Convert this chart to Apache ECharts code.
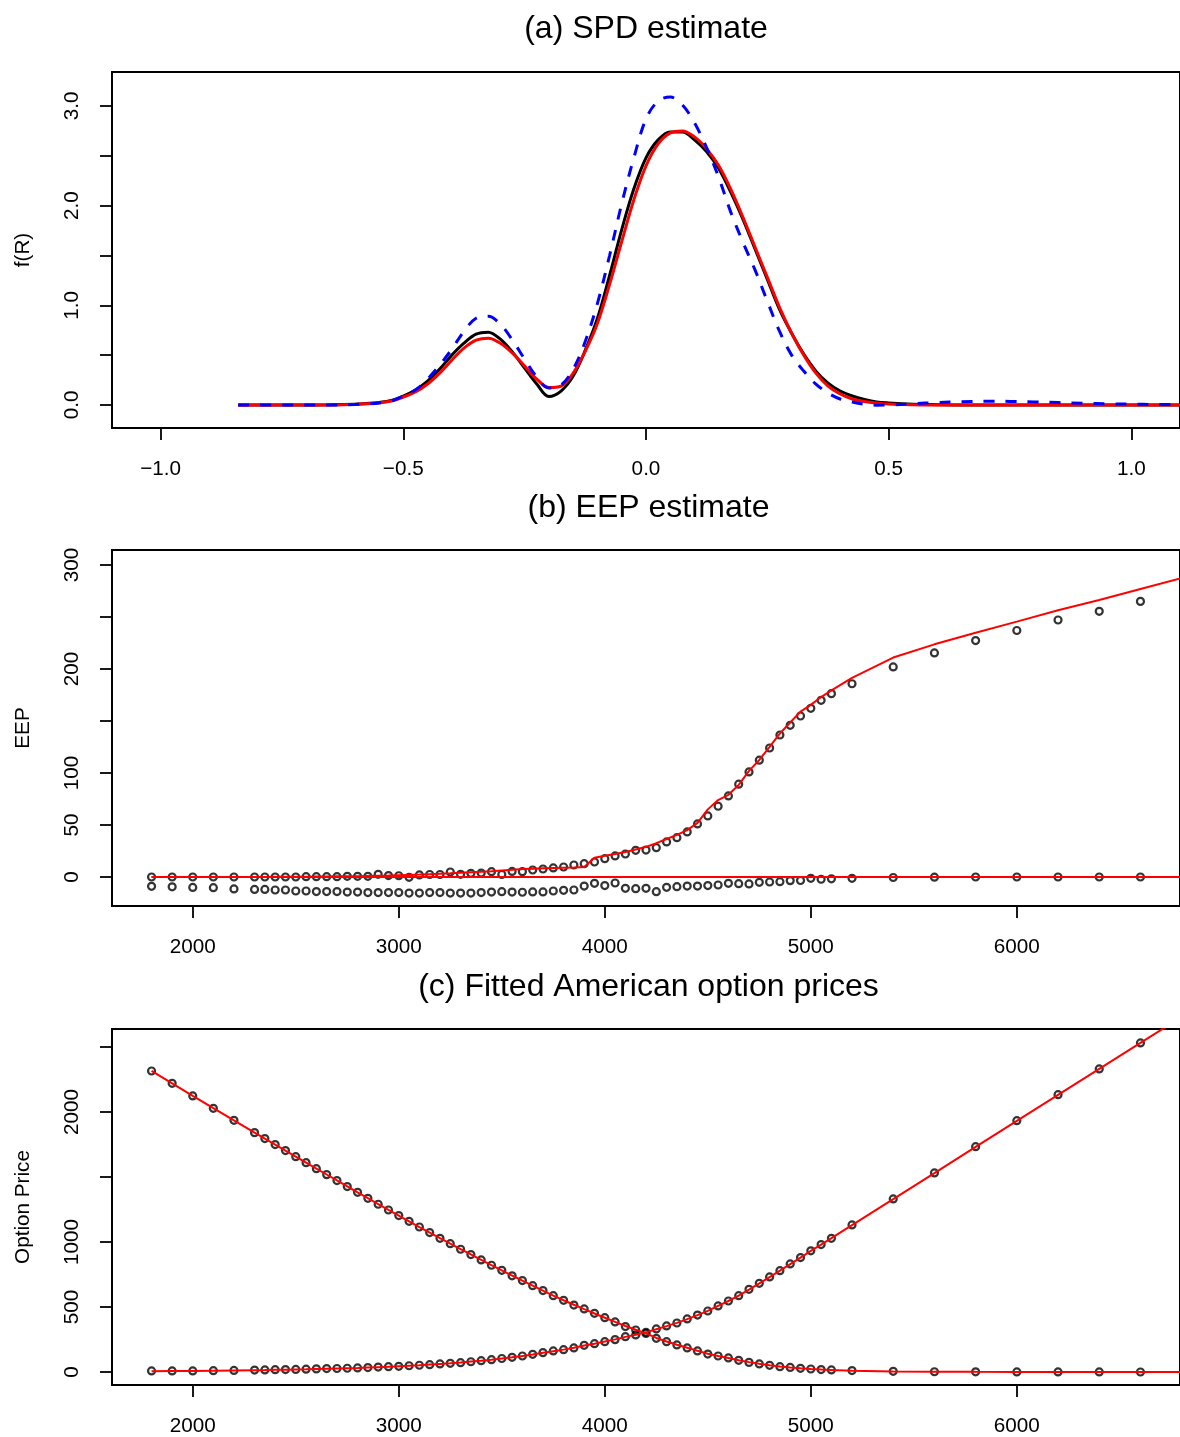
<!DOCTYPE html>
<html>
<head>
<meta charset="utf-8">
<script src="https://cdn.jsdelivr.net/npm/echarts@6/dist/echarts.min.js"></script>
<style>
html,body{margin:0;padding:0;background:#fff;}
#c{width:1180px;height:1437px;}
</style>
</head>
<body>
<div id="c"></div>
<script>
// ---------- Panel (a): SPD estimate ----------
const gridR = [-0.84,-0.75,-0.70,-0.65,-0.60,-0.575,-0.55,-0.525,-0.50,-0.475,-0.45,-0.425,-0.40,-0.375,-0.35,-0.325,-0.30,-0.275,-0.25,-0.225,-0.20,-0.175,-0.15,-0.125,-0.10,-0.075,-0.05,-0.025,0.00,0.025,0.05,0.075,0.10,0.125,0.15,0.175,0.20,0.225,0.25,0.275,0.30,0.325,0.35,0.375,0.40,0.425,0.45,0.475,0.50,0.55,0.60,0.65,0.70,0.75,0.80,0.85,0.90,0.95,1.00,1.05,1.10];
const spdTrue = [0,0,0,0.002,0.008,0.015,0.025,0.045,0.09,0.15,0.24,0.36,0.50,0.62,0.71,0.73,0.66,0.53,0.37,0.21,0.085,0.14,0.29,0.55,0.87,1.30,1.76,2.17,2.48,2.66,2.74,2.74,2.66,2.54,2.37,2.13,1.86,1.56,1.26,0.96,0.72,0.51,0.34,0.22,0.14,0.09,0.055,0.03,0.02,0.008,0.003,0,0,0,0,0,0,0,0,0,0];
const spdFit  = [0,0,0,0,0.006,0.012,0.022,0.04,0.08,0.13,0.21,0.32,0.45,0.57,0.65,0.67,0.62,0.52,0.39,0.26,0.175,0.19,0.32,0.54,0.82,1.21,1.64,2.06,2.40,2.62,2.73,2.75,2.69,2.57,2.40,2.16,1.88,1.58,1.28,0.98,0.72,0.50,0.32,0.19,0.11,0.06,0.035,0.02,0.01,0.003,0,0,0,0,0,0,0,0,0,0,0];
const spdAlt  = [0,0,0,0,0.005,0.01,0.02,0.04,0.09,0.15,0.26,0.40,0.56,0.74,0.87,0.89,0.81,0.65,0.46,0.28,0.17,0.20,0.36,0.64,1.02,1.50,2.02,2.48,2.87,3.05,3.09,3.01,2.83,2.58,2.28,1.93,1.63,1.35,1.04,0.74,0.50,0.34,0.21,0.12,0.06,0.03,0.008,-0.002,0,0.012,0.025,0.033,0.038,0.036,0.03,0.024,0.017,0.012,0.008,0.005,0.003];
const ticksA_x = [-1.0,-0.5,0.0,0.5,1.0];
const ticksA_y = [0,0.5,1.0,1.5,2.0,2.5,3.0];
const labelsA_y = [0,1,2,3];

// ---------- Strikes ----------
const strikes = [1800,1900,2000,2100,2200,
 2300,2350,2400,2450,2500,2550,2600,2650,2700,2750,
 2800,2850,2900,2950,3000,3050,3100,3150,3200,3250,
 3300,3350,3400,3450,3500,3550,3600,3650,3700,3750,
 3800,3850,3900,3950,4000,4050,4100,4150,4200,4250,
 4300,4350,4400,4450,4500,4550,4600,4650,4700,4750,
 4800,4850,4900,4950,5000,5050,5100,
 5200,5400,5600,5800,6000,6200,6400,6600];
const fitStrikes = [1800,1900,2000,2100,2200,
 2300,2350,2400,2450,2500,2550,2600,2650,2700,2750,
 2800,2850,2900,2950,3000,3050,3100,3150,3200,3250,
 3300,3350,3400,3450,3500,3550,3600,3650,3700,3750,
 3800,3850,3900,3950,4000,4050,4100,4150,4200,4250,
 4300,4350,4400,4450,4500,4550,4600,4650,4700,4750,
 4800,4850,4900,4950,5000,5050,5100,
 5200,5400,5600,5800,6000,6200,6400,6600,6800];

// ---------- Panel (b): EEP estimate ----------
const putEEP = [0,0,0,0,0,
 0,0,0,0,0,0.3,0.3,0.3,0.3,0.6,
 0.6,0.6,2.6,1.4,1.2,-0.3,2.0,2.4,2.4,4.8,
 2.6,3.5,3.8,5.1,2.4,5.3,5.1,6.7,7.7,8.7,
 9.6,11.5,12.8,14.4,17.6,20.2,22.1,25.6,25.9,28.2,
 33.7,37.8,43.3,51.0,58.7,68.0,77.9,89.2,101.0,112.3,
 124.0,136.5,145.8,154.8,162.2,169.9,176.3,
 185.8,202.0,215.4,227.3,237.0,247.1,255.4,265.0];
const callEEP = [-9,-9.5,-10,-10.3,-11.5,
 -12,-12,-12.5,-12.5,-13.5,-13.5,-14,-14,-14,-14.5,
 -14.5,-15,-15,-15,-15,-15.5,-15.5,-15,-15,-15.5,
 -15.5,-15.5,-15,-14.5,-14.1,-14.5,-14.7,-14.4,-14.4,-13.5,
 -12.8,-12.5,-8.7,-6.1,-8.3,-5.8,-10.9,-11.2,-10.9,-14.1,
 -9.9,-9.3,-8.7,-8.7,-8.3,-7.7,-6.1,-6.4,-6.7,-5.1,
 -4.8,-4.5,-3.5,-3.4,-1.3,-2.2,-1.8,
 -1.3,-0.5,-0.2,0,0,0,0,0];
const putEEPFit = [0,0,0,0,0,
 0.1,0.1,0.2,0.2,0.3,0.3,0.4,0.5,0.6,0.7,
 0.8,1.0,1.2,1.4,1.7,2.0,2.3,2.7,3.1,3.5,
 4.0,4.5,5.0,5.6,6.3,7.0,7.6,8.0,8.3,8.6,
 8.9,9.2,9.6,18.5,20.5,22.0,24.0,26.5,29.0,32.5,
 36.5,40.5,45.0,52.0,65.0,74.0,79.0,88.5,102.0,112.5,
 125.0,138.0,148.5,159.0,165.5,173.0,179.5,
 191.5,211.0,223.7,234.9,245.5,256.4,266.3,276.9,287.5];
const callEEPFitK = [1800,6800];
const callEEPFit = [0,0];
const ticksB_x = [2000,3000,4000,5000,6000];
const ticksB_y = [0,50,100,150,200,250,300];
const labelsB_y = [0,50,100,200,300];

// ---------- Panel (c): Fitted American option prices ----------
const callPrice = [2315,2220,2123,2028,1936,
 1841,1795,1749,1703,1656,1610,1564,1518,1472,1426,
 1382,1336,1290,1246,1203,1159,1115,1072,1028,987,
 944,903,862,821,782,740,703,664,626,587,
 551,515,485,451,418,385,349,323,297,259,
 233,208,185,162,138,123,108,90,74,62,
 51,41,35,28,23,19,16,
 11,5,2,1,0.5,0.3,0.2,0.1];
const putPrice = [8,8,8,10,12,
 15,16,18,19,20,22,24,26,27,29,
 31,34,38,41,44,48,52,56,62,67,
 72,79,87,95,104,113,123,136,149,162,
 172,185,205,218,233,249,272,285,305,331,
 354,377,408,438,469,508,546,587,636,682,
 731,779,831,880,932,980,1028,
 1131,1331,1531,1733,1933,2133,2331,2531];
const callPriceFit = [2316,2220,2124,2029,1935,
 1841,1795,1749,1703,1657,1611,1565,1519,1473,1428,
 1382,1337,1292,1247,1203,1159,1115,1072,1029,987,
 945,904,863,822,782,742,703,664,626,588,
 552,517,483,450,417,385,354,325,297,262,
 235,210,186,163,141,123,107,91,76,63,
 52,43,35,28,23,19,16,
 10,4,2,1,0.5,0.3,0.2,0.1,0.1];
const putPriceFit = [6,7,8,10,12,
 14,15,17,18,20,21,23,25,27,29,
 31,34,37,40,44,48,52,57,62,67,
 73,80,87,95,104,113,123,135,148,160,
 172,187,203,218,234,251,270,287,305,329,
 353,378,407,437,470,508,546,588,634,681,
 730,779,830,880,931,980,1029,
 1130,1330,1530,1731,1931,2131,2331,2531,2731];
const ticksC_y = [0,500,1000,1500,2000,2500];
const labelsC_y = [0,500,1000,2000];

// ---------- helpers ----------
const zip = (xs, ys) => xs.map((x, i) => [x, ys[i]]);
const FONT = '"Liberation Sans", Arial, Helvetica, sans-serif';
const AX = 20.7;
const minus = s => String(s).replace('-', '\u2212');

function xAxisDef(gi, min, max, ticks, fmt) {
  return {
    type: 'value', gridIndex: gi, min: min, max: max, position: 'bottom',
    axisLine: {show: false, onZero: false},
    splitLine: {show: false},
    axisTick: {show: true, inside: false, length: 12, customValues: ticks,
               lineStyle: {color: '#000', width: 1.8}},
    axisLabel: {show: true, customValues: ticks, formatter: fmt, margin: 31,
                color: '#000', fontSize: AX, fontFamily: FONT}
  };
}
function yAxisDef(gi, min, max, ticks, labels, fmt) {
  return {
    type: 'value', gridIndex: gi, min: min, max: max, position: 'left',
    axisLine: {show: false, onZero: false},
    splitLine: {show: false},
    axisTick: {show: true, inside: false, length: 12, customValues: ticks,
               lineStyle: {color: '#000', width: 1.8}},
    axisLabel: {show: true, customValues: labels, formatter: fmt, rotate: 90, margin: 29,
                color: '#000', fontSize: AX, fontFamily: FONT}
  };
}
const gridBase = {left: 112, width: 1073, height: 356, show: true, borderColor: '#000', borderWidth: 2, backgroundColor: 'transparent'};

const pointStyle = {color: 'rgba(0,0,0,0)', borderColor: '#000', borderWidth: 2.2};
const PS = 7;

const option = {
  animation: false,
  backgroundColor: '#fff',
  grid: [
    Object.assign({top: 72}, gridBase),
    Object.assign({top: 550}, gridBase),
    Object.assign({top: 1029}, gridBase)
  ],
  xAxis: [
    xAxisDef(0, -1.1, 1.1, ticksA_x, v => minus(v.toFixed(1))),
    xAxisDef(1, 1608, 6792, ticksB_x, v => String(v)),
    xAxisDef(2, 1608, 6792, ticksB_x, v => String(v))
  ],
  yAxis: [
    yAxisDef(0, -0.231, 3.341, ticksA_y, labelsA_y, v => v.toFixed(1)),
    yAxisDef(1, -27.9, 314.4, ticksB_y, labelsB_y, v => String(v)),
    yAxisDef(2, -100, 2638, ticksC_y, labelsC_y, v => String(v))
  ],
  series: [
    {type: 'line', xAxisIndex: 0, yAxisIndex: 0, data: zip(gridR, spdTrue), showSymbol: false, smooth: 0.35,
     lineStyle: {color: '#000', width: 3}, z: 2},
    {type: 'line', xAxisIndex: 0, yAxisIndex: 0, data: zip(gridR, spdFit), showSymbol: false, smooth: 0.35,
     lineStyle: {color: '#ff0000', width: 3}, z: 3},
    {type: 'line', xAxisIndex: 0, yAxisIndex: 0, data: zip(gridR, spdAlt), showSymbol: false, smooth: 0.35,
     lineStyle: {color: '#0000ff', width: 3, type: [11, 11], cap: 'butt'}, z: 4},

    {type: 'scatter', xAxisIndex: 1, yAxisIndex: 1, data: zip(strikes, putEEP), symbol: 'circle', symbolSize: PS,
     itemStyle: pointStyle, z: 2},
    {type: 'scatter', xAxisIndex: 1, yAxisIndex: 1, data: zip(strikes, callEEP), symbol: 'circle', symbolSize: PS,
     itemStyle: pointStyle, z: 2},
    {type: 'line', xAxisIndex: 1, yAxisIndex: 1, data: zip(fitStrikes, putEEPFit), showSymbol: false,
     lineStyle: {color: '#ff0000', width: 2}, z: 3},
    {type: 'line', xAxisIndex: 1, yAxisIndex: 1, data: zip(callEEPFitK, callEEPFit), showSymbol: false,
     lineStyle: {color: '#ff0000', width: 2}, z: 3},

    {type: 'scatter', xAxisIndex: 2, yAxisIndex: 2, data: zip(strikes, callPrice), symbol: 'circle', symbolSize: PS,
     itemStyle: pointStyle, z: 2},
    {type: 'scatter', xAxisIndex: 2, yAxisIndex: 2, data: zip(strikes, putPrice), symbol: 'circle', symbolSize: PS,
     itemStyle: pointStyle, z: 2},
    {type: 'line', xAxisIndex: 2, yAxisIndex: 2, data: zip(fitStrikes, callPriceFit), showSymbol: false,
     lineStyle: {color: '#ff0000', width: 2}, z: 3},
    {type: 'line', xAxisIndex: 2, yAxisIndex: 2, data: zip(fitStrikes, putPriceFit), showSymbol: false,
     lineStyle: {color: '#ff0000', width: 2}, z: 3}
  ],
  graphic: [
    {type: 'text', x: 646, y: 29, style: {text: '(a) SPD estimate', font: '32px ' + FONT, fill: '#000', textAlign: 'center', textVerticalAlign: 'middle'}},
    {type: 'text', x: 648.5, y: 508, style: {text: '(b) EEP estimate', font: '32px ' + FONT, fill: '#000', textAlign: 'center', textVerticalAlign: 'middle'}},
    {type: 'text', x: 648.5, y: 987, style: {text: '(c) Fitted American option prices', font: '32px ' + FONT, fill: '#000', textAlign: 'center', textVerticalAlign: 'middle'}},
    {type: 'text', x: 23, y: 250, rotation: Math.PI / 2, style: {text: 'f(R)', font: AX + 'px ' + FONT, fill: '#000', textAlign: 'center', textVerticalAlign: 'middle'}},
    {type: 'text', x: 23, y: 728, rotation: Math.PI / 2, style: {text: 'EEP', font: AX + 'px ' + FONT, fill: '#000', textAlign: 'center', textVerticalAlign: 'middle'}},
    {type: 'text', x: 23, y: 1207, rotation: Math.PI / 2, style: {text: 'Option Price', font: AX + 'px ' + FONT, fill: '#000', textAlign: 'center', textVerticalAlign: 'middle'}}
  ]
};

const chart = echarts.init(document.getElementById('c'), null, {renderer: 'canvas'});
chart.setOption(option);
</script>
</body>
</html>
